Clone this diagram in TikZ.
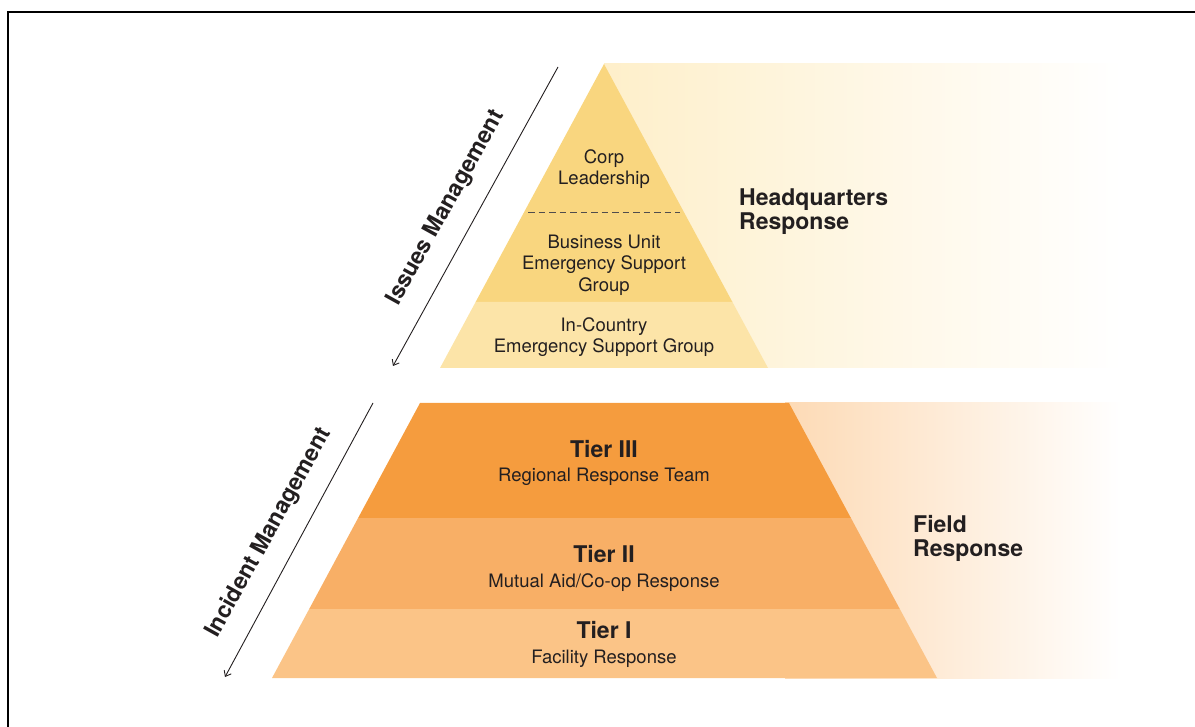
\documentclass[tikz,border=0pt]{standalone}
\usepackage{fontspec}
\setmainfont{TeX Gyre Heros}
\usetikzlibrary{arrows.meta}

\definecolor{inktext}{HTML}{231F20}
\definecolor{hqupper}{HTML}{F9D67F}
\definecolor{hqlower}{HTML}{FCE4A8}
\definecolor{hqbg}{HTML}{FEEFCA}
\definecolor{tierthree}{HTML}{F59C3E}
\definecolor{tiertwo}{HTML}{F8AF66}
\definecolor{tierone}{HTML}{FBC487}
\definecolor{fieldbg}{HTML}{FDDAB5}

\tikzset{
  body/.style={text=inktext, align=center, inner sep=0pt,
               font=\fontsize{18.5}{21.5}\selectfont},
  tiertitle/.style={text=inktext, inner sep=0pt, anchor=base,
               font=\bfseries\fontsize{23}{24}\selectfont},
  tiersub/.style={text=inktext, inner sep=0pt, anchor=base,
               font=\fontsize{18.5}{21.5}\selectfont},
  sidehead/.style={text=inktext, align=left, inner sep=0pt, anchor=base west,
               font=\bfseries\fontsize{23}{24}\selectfont},
  mgmtlabel/.style={text=inktext, inner sep=0pt, rotate=61,
               font=\bfseries\fontsize{23}{24}\selectfont},
  mgmtarrow/.style={draw=inktext, line width=0.9pt,
               -{Straight Barb[length=5pt,width=8pt,line width=0.9pt]}},
  divider/.style={draw=inktext!80, line width=1pt, dash pattern=on 6.5pt off 4pt},
}

\begin{document}
\begin{tikzpicture}[x=1pt,y=-1pt]
\useasboundingbox (0,0) rectangle (1195,727);

% frame
\draw[line width=2.2pt] (8.3,727) -- (8.3,12) -- (1195,12);

% fading backdrops behind the two pyramids
\shade[left color=hqbg, right color=white] (604,64) rectangle (1122,368);
\shade[left color=fieldbg, right color=white] (785,403) rectangle (1122,678);

% headquarters pyramid
\fill[hqupper] (604,64) -- (732.4,302) -- (475.6,302) -- cycle;
\fill[hqlower] (475.6,302) -- (732.4,302) -- (768,368) -- (440,368) -- cycle;
\coordinate (dashL) at (528,213);
\coordinate (dashR) at (680,213);
\draw[divider] (dashL) -- (dashR);

\node[body] (corp) at (604,169) {Corp\\Leadership};
\node[body] (bu) at (604,265) {Business Unit\\Emergency Support\\Group};
\node[body] (icesg) at (604,337) {In-Country\\Emergency Support Group};

% field pyramid
\fill[tierthree] (420,403) -- (789,403) -- (850.9,518) -- (358.1,518) -- cycle;
\fill[tiertwo] (358.1,518) -- (850.9,518) -- (899.8,609) -- (309.2,609) -- cycle;
\fill[tierone] (309.2,609) -- (899.8,609) -- (937,678) -- (272,678) -- cycle;

\node[tiertitle] (t3) at (604,457) {Tier III};
\node[tiersub] (t3s) at (604,482) {Regional Response Team};
\node[tiertitle] (t2) at (604,562) {Tier II};
\node[tiersub] (t2s) at (604,587) {Mutual Aid/Co-op Response};
\node[tiertitle] (t1) at (604,638) {Tier I};
\node[tiersub] (t1s) at (604,663) {Facility Response};

% side headings (anchored on the baseline of their last line)
\node[sidehead] (hq) at (739,230) {Headquarters\\Response};
\node[sidehead] (field) at (913,556) {Field\\Response};

% management arrows
\coordinate (imTop) at (558,67);
\coordinate (imBot) at (393,366);
\coordinate (inTop) at (373,403);
\coordinate (inBot) at (225,677);
\draw[mgmtarrow] (imTop) -- (imBot);
\draw[mgmtarrow] (inTop) -- (inBot);
\node[mgmtlabel] (issues) at (446,208) {Issues Management};
\node[mgmtlabel] (incident) at (269,533) {Incident Management};
\end{tikzpicture}
\end{document}
